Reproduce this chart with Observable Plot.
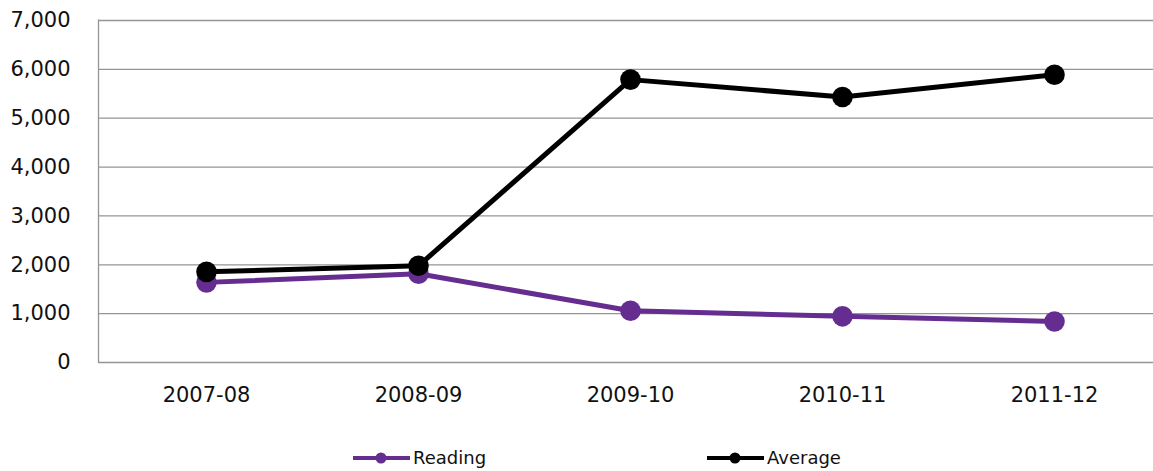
<!DOCTYPE html>
<html>
<head>
<meta charset="utf-8">
<script src="https://cdn.jsdelivr.net/npm/d3@7"></script>
<script src="https://cdn.jsdelivr.net/npm/@observablehq/plot@0.6"></script>
<style>
  html, body { margin: 0; padding: 0; background: #fff; }
  #wrap { position: relative; width: 1153px; height: 471px; overflow: hidden; font-family: "DejaVu Sans", Verdana, sans-serif; }
  #legend { position: absolute; left: 0; top: 430px; width: 1153px; height: 41px; }
  .item { position: absolute; top: 17px; display: flex; align-items: center; font-size: 18px; color: #111; }
  .item svg { display: block; }
</style>
</head>
<body>
<div id="wrap">
  <div id="chart"></div>
  <div id="legend"></div>
</div>
<script>
const years = ["2007-08", "2008-09", "2009-10", "2010-11", "2011-12"];
const reading = [1640, 1815, 1060, 945, 840];
const average = [1855, 1980, 5790, 5435, 5890];
const seriesNames = ["Reading", "Average"];
const seriesColors = ["#662d91", "#000000"];
const yTicks = [0, 1000, 2000, 3000, 4000, 5000, 6000, 7000];

const rows = [];
years.forEach((y, i) => rows.push({year: y, value: reading[i], series: "Reading"}));
years.forEach((y, i) => rows.push({year: y, value: average[i], series: "Average"}));

const chart = Plot.plot({
  width: 1153,
  height: 430,
  marginTop: 20,
  marginBottom: 68,
  marginLeft: 98,
  marginRight: 0,
  style: {fontFamily: "DejaVu Sans, Verdana, sans-serif", fontSize: "21px", color: "#111", background: "#fff", overflow: "hidden"},
  x: {type: "point", domain: years, range: [204, 1055], padding: 0, label: null},
  y: {domain: [0, 7000], ticks: yTicks, label: null},
  marks: [
    Plot.ruleY(yTicks, {stroke: "#959595", strokeWidth: 1.3}),
    Plot.axisY({ticks: yTicks, tickSize: 0, tickPadding: 28, tickFormat: d3.format(","), fontSize: 21, label: null}),
    Plot.axisX({tickSize: 0, tickPadding: 25, fontSize: 21, label: null}),
    Plot.line(rows.filter(d => d.series === "Reading"), {x: "year", y: "value", stroke: seriesColors[0], strokeWidth: 5}),
    Plot.dot(rows.filter(d => d.series === "Reading"), {x: "year", y: "value", fill: seriesColors[0], r: 10.3}),
    Plot.line(rows.filter(d => d.series === "Average"), {x: "year", y: "value", stroke: seriesColors[1], strokeWidth: 5}),
    Plot.dot(rows.filter(d => d.series === "Average"), {x: "year", y: "value", fill: seriesColors[1], r: 10.3})
  ]
});
document.getElementById("chart").appendChild(chart);

// vertical axis line at the left edge of the frame
const svg = d3.select(chart);
svg.insert("line", ":first-child").attr("x1", 98.5).attr("x2", 98.5).attr("y1", 19.5).attr("y2", 362.5)
  .attr("stroke", "#959595").attr("stroke-width", 1.3);

const legend = document.getElementById("legend");
const lefts = [353, 707];
seriesNames.forEach((name, i) => {
  const div = document.createElement("div");
  div.className = "item";
  div.style.left = lefts[i] + "px";
  div.innerHTML = `<svg width="58" height="14"><line x1="0" x2="57" y1="7" y2="7" stroke="${seriesColors[i]}" stroke-width="4"/><circle cx="28" cy="7" r="5.5" fill="${seriesColors[i]}"/></svg><span style="margin-left:2px">${name}</span>`;
  legend.appendChild(div);
});
</script>
</body>
</html>
